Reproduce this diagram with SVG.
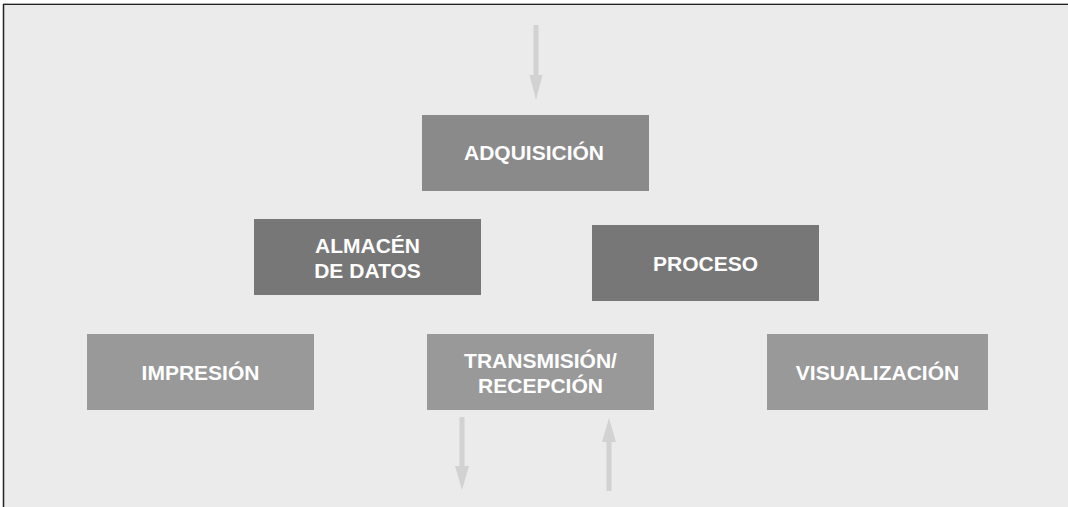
<svg xmlns="http://www.w3.org/2000/svg" width="1068" height="507" viewBox="0 0 1068 507">
<style>
.lbl{font-family:"Liberation Sans",Arial,Helvetica,sans-serif;font-weight:bold;font-size:21px;fill:#ffffff;text-anchor:middle}
.arr{fill:#d2d2d2}
</style>
<rect x="0" y="0" width="1068" height="507" fill="#ffffff"/>
<rect x="3" y="3" width="1065" height="504" fill="#ebebeb"/>
<line x1="3" y1="3.5" x2="1068" y2="3.5" stroke="#b0b0b0" stroke-width="1"/>
<line x1="3" y1="4.5" x2="1068" y2="4.5" stroke="#222222" stroke-width="1"/>
<line x1="3.5" y1="4" x2="3.5" y2="507" stroke="#222222" stroke-width="1.5"/>
<g id="connectors">
  <path class="arr" d="M533.5 25 H538.5 V75 H542.5 L536 100 L529.5 75 H533.5 Z"/>
  <path class="arr" d="M459.5 417 H464.5 V466 H469 L462 490 L455 466 H459.5 Z"/>
  <path class="arr" d="M606.5 491 H611.5 V442 H616 L609 418 L602 442 H606.5 Z"/>
</g>
<g id="adquisicion">
  <rect x="422" y="115" width="227" height="76" fill="#8a8a8a"/>
  <text class="lbl" x="534" y="160">ADQUISICIÓN</text>
</g>
<g id="almacen">
  <rect x="254" y="219" width="227" height="76" fill="#777777"/>
  <text class="lbl" x="367.5" y="252.5">ALMACÉN</text>
  <text class="lbl" x="367.5" y="277.5">DE DATOS</text>
</g>
<g id="proceso">
  <rect x="592" y="225" width="227" height="76" fill="#777777"/>
  <text class="lbl" x="705.5" y="271">PROCESO</text>
</g>
<g id="impresion">
  <rect x="87" y="334" width="227" height="76" fill="#999999"/>
  <text class="lbl" x="200.5" y="380">IMPRESIÓN</text>
</g>
<g id="transmision">
  <rect x="427" y="334" width="227" height="76" fill="#999999"/>
  <text class="lbl" x="540.5" y="367.5">TRANSMISIÓN/</text>
  <text class="lbl" x="540.5" y="392.5">RECEPCIÓN</text>
</g>
<g id="visualizacion">
  <rect x="767" y="334" width="221" height="76" fill="#999999"/>
  <text class="lbl" x="877.5" y="380">VISUALIZACIÓN</text>
</g>
</svg>
